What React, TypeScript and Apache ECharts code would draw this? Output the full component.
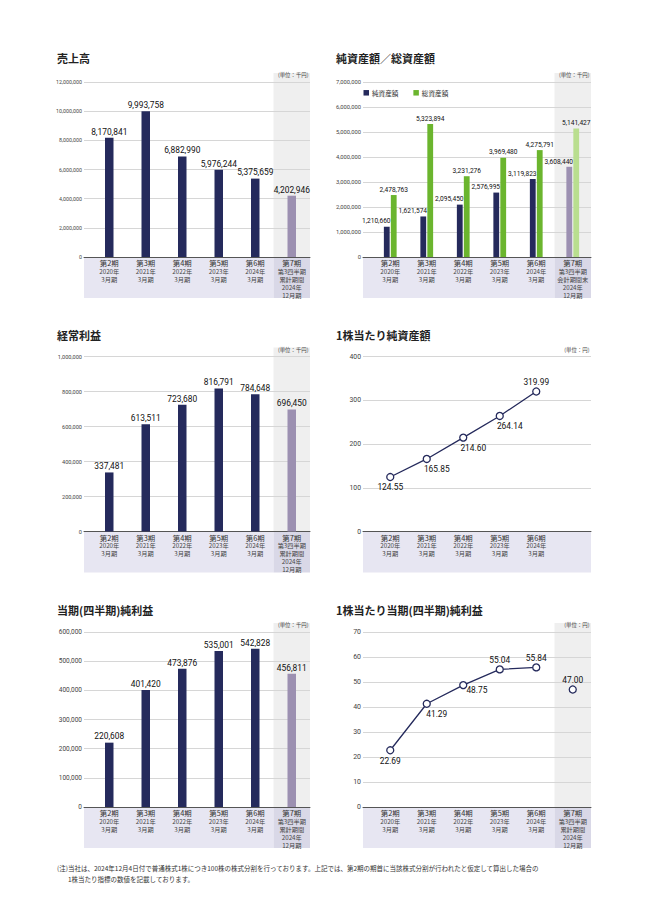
import React, { useEffect, useRef } from "react";
import * as echarts from "echarts";

// ---------- data ----------
const CATS = [
  "第2期\n2020年\n3月期",
  "第3期\n2021年\n3月期",
  "第4期\n2022年\n3月期",
  "第5期\n2023年\n3月期",
  "第6期\n2024年\n3月期",
  "第7期\n第3四半期\n累計期間\n2024年\n12月期",
];
const CATS_BS = [
  "第2期\n2020年\n3月期",
  "第3期\n2021年\n3月期",
  "第4期\n2022年\n3月期",
  "第5期\n2023年\n3月期",
  "第6期\n2024年\n3月期",
  "第7期\n第3四半期\n会計期間末\n2024年\n12月期",
];
const CATS_BPS = [
  "第2期\n2020年\n3月期",
  "第3期\n2021年\n3月期",
  "第4期\n2022年\n3月期",
  "第5期\n2023年\n3月期",
  "第6期\n2024年\n3月期",
  "",
];

const SALES = [8170841, 9993758, 6882990, 5976244, 5375659, 4202946];
const NET_ASSETS = [1210660, 1621574, 2095450, 2576995, 3119823, 3608440];
const TOTAL_ASSETS = [2478763, 5323894, 3231276, 3969480, 4275791, 5141427];
const ORDINARY_PROFIT = [337481, 613511, 723680, 816791, 784648, 696450];
const BPS = [124.55, 165.85, 214.6, 264.14, 319.99];
const NET_INCOME = [220608, 401420, 473876, 535001, 542828, 456811];
const EPS = [22.69, 41.29, 48.75, 55.04, 55.84];
const EPS_Q3 = [47.0];

const SALES_AXIS = { max: 12000000, interval: 2000000 };
const BS_AXIS = { max: 7000000, interval: 1000000 };
const ORD_AXIS = { max: 1000000, interval: 200000 };
const BPS_AXIS = { max: 400, interval: 100 };
const NI_AXIS = { max: 600000, interval: 100000 };
const EPS_AXIS = { max: 70, interval: 10 };

const NOTE_1 =
  "(注)当社は、2024年12月4日付で普通株式1株につき100株の株式分割を行っております。上記では、第2期の期首に当該株式分割が行われたと仮定して算出した場合の";
const NOTE_2 = "1株当たり指標の数値を記載しております。";

// ---------- style ----------
const NAVY = "#252a5c";
const PURPLE = "#9c90b1";
const GREEN = "#6bb52e";
const LGREEN = "#b9de8f";
const LAV = "#e7e6f2";
const LAV2 = "#d9d8e7";
const GRAY = "#efefef";
const JPF = "'Noto Sans CJK JP', sans-serif";
const NUMF = "Roboto, 'Noto Sans CJK JP', sans-serif";

const COLS = [
  { bgLeft: 84, catLeft: 91, right: 310 },
  { bgLeft: 363, catLeft: 372, right: 591 },
];
const ROWS = [
  { top: 82, titleY: 58 },
  { top: 356.5, titleY: 335 },
  { top: 632, titleY: 610 },
];
const PH = 175;

const fmt = (v: number) => v.toLocaleString("en-US");

function xLabelFormatter(v: string) {
  if (!v) return "";
  const [a, ...rest] = v.split("\n");
  return [`{a|${a}}`, ...rest.map((r) => `{b|${r}}`)].join("\n");
}

function buildOption() {
  const grid: any[] = [];
  const xAxis: any[] = [];
  const yAxis: any[] = [];
  const series: any[] = [];
  const graphic: any[] = [];

  const panels: any[] = [
    { title: "売上高", unit: "(単位：千円)", col: 0, row: 0, cats: CATS, ax: SALES_AXIS, yFont: 5.3, q3: true, kind: "sales" },
    { title: "純資産額／総資産額", unit: "(単位：千円)", col: 1, row: 0, cats: CATS_BS, ax: BS_AXIS, yFont: 5.8, q3: true, kind: "bs" },
    { title: "経常利益", unit: "(単位：千円)", col: 0, row: 1, cats: CATS, ax: ORD_AXIS, yFont: 5.6, q3: true, kind: "ord" },
    { title: "1株当たり純資産額", unit: "(単位：円)", col: 1, row: 1, cats: CATS_BPS, ax: BPS_AXIS, yFont: 6.8, q3: false, kind: "bps" },
    { title: "当期(四半期)純利益", unit: "(単位：千円)", col: 0, row: 2, cats: CATS, ax: NI_AXIS, yFont: 6.5, q3: true, kind: "ni" },
    { title: "1株当たり当期(四半期)純利益", unit: "(単位：円)", col: 1, row: 2, cats: CATS, ax: EPS_AXIS, yFont: 7, q3: true, kind: "eps" },
  ];

  panels.forEach((p, i) => {
    const c = COLS[p.col];
    const r = ROWS[p.row];
    const bi = 2 * i;
    const fi = 2 * i + 1;
    const zero = r.top + PH;
    const catW = (c.right - c.catLeft) / 6;
    const q3Left = c.catLeft + 5 * catW;

    grid.push({ left: c.bgLeft, top: r.top, width: c.right - c.bgLeft, height: PH });
    grid.push({ left: c.catLeft, top: r.top, width: c.right - c.catLeft, height: PH });

    xAxis.push({
      type: "value", gridIndex: bi, min: 0, max: 1,
      axisLine: { show: true, lineStyle: { color: "#555", width: 1 } },
      axisTick: { show: false }, axisLabel: { show: false }, splitLine: { show: false },
    });
    yAxis.push({
      type: "value", gridIndex: bi, min: 0, max: p.ax.max, interval: p.ax.interval,
      axisLine: { show: false }, axisTick: { show: false },
      axisLabel: { fontSize: p.yFont, color: "#444", margin: 2, fontFamily: NUMF, formatter: (v: number) => fmt(v) },
      splitLine: { lineStyle: { color: "#d6d6d6", width: 1 } },
    });
    xAxis.push({
      type: "category", gridIndex: fi, data: p.cats,
      axisLine: { show: false }, axisTick: { show: false }, splitLine: { show: false },
      axisLabel: {
        interval: 0, margin: 1, formatter: xLabelFormatter,
        rich: {
          a: { fontSize: 7.4, lineHeight: 9, color: "#333", fontFamily: JPF },
          b: { fontSize: 6.2, lineHeight: 8, color: "#444", fontFamily: JPF },
        },
      },
    });
    yAxis.push({ type: "value", gridIndex: fi, min: 0, max: p.ax.max, interval: p.ax.interval, show: false });

    // backgrounds
    if (p.q3) {
      graphic.push({ type: "rect", z: -10, shape: { x: c.bgLeft, y: zero, width: q3Left - c.bgLeft, height: 41 }, style: { fill: LAV } });
      graphic.push({ type: "rect", z: -10, shape: { x: q3Left, y: zero, width: c.right - q3Left, height: 41 }, style: { fill: LAV2 } });
      graphic.push({ type: "rect", z: -10, shape: { x: q3Left, y: r.top - 9, width: c.right - q3Left, height: PH + 9 }, style: { fill: GRAY } });
    } else {
      graphic.push({ type: "rect", z: -10, shape: { x: c.bgLeft, y: zero, width: c.right - c.bgLeft, height: 41 }, style: { fill: LAV } });
    }
    // title
    graphic.push({
      type: "text", x: c.bgLeft - 27, y: r.titleY,
      style: { text: p.title, fontSize: 11, fontWeight: "bold", fill: "#222", fontFamily: JPF, verticalAlign: "middle", align: "left" },
    });
    // unit
    graphic.push({
      type: "text", x: c.right - 1.5, y: r.top - 7,
      style: { text: p.unit, fontSize: 5.4, fill: "#444", fontFamily: JPF, verticalAlign: "middle", align: "right" },
    });

    const barLabel = { show: true, position: "top", distance: 2, fontSize: 8.4, color: "#111", fontFamily: NUMF, formatter: (q: any) => fmt(q.value) };
    const single = (name: string, vals: number[]) => ({
      type: "bar", name, xAxisIndex: fi, yAxisIndex: fi, barWidth: 8.5,
      itemStyle: { color: NAVY },
      data: vals.map((v, k) => (k === 5 ? { value: v, itemStyle: { color: PURPLE } } : v)),
      label: barLabel,
    });

    if (p.kind === "sales") series.push(single("売上高", SALES));
    if (p.kind === "ord") series.push(single("経常利益", ORDINARY_PROFIT));
    if (p.kind === "ni") series.push(single("当期(四半期)純利益", NET_INCOME));
    if (p.kind === "bs") {
      const small = { ...barLabel, fontSize: 6.6, distance: 2 };
      series.push({
        type: "bar", name: "純資産額", xAxisIndex: fi, yAxisIndex: fi, barWidth: 5.8, barGap: "20%",
        itemStyle: { color: NAVY },
        data: NET_ASSETS.map((v, k) => (k === 5 ? { value: v, itemStyle: { color: PURPLE } } : v)),
        label: { ...small, offset: [-10.5, 0] },
      });
      series.push({
        type: "bar", name: "総資産額", xAxisIndex: fi, yAxisIndex: fi, barWidth: 5.8, barGap: "20%",
        itemStyle: { color: GREEN },
        data: TOTAL_ASSETS.map((v, k) => (k === 5 ? { value: v, itemStyle: { color: LGREEN } } : v)),
        label: small,
      });
    }
    const lineBase = {
      type: "line", xAxisIndex: fi, yAxisIndex: fi, symbol: "circle", symbolSize: 7,
      itemStyle: { color: "#fff", borderColor: NAVY, borderWidth: 1.3 },
      lineStyle: { color: NAVY, width: 1.3 },
      label: { show: true, fontSize: 8.4, color: "#111", fontFamily: NUMF, formatter: (q: any) => Number(q.value).toFixed(2) },
    };
    if (p.kind === "bps") {
      const pos = [
        { position: "bottom", distance: 2 },
        { position: "bottom", distance: 2, offset: [10, 0] },
        { position: "bottom", distance: 2, offset: [10, 0] },
        { position: "bottom", distance: 2, offset: [10, 0] },
        { position: "top", distance: 1 },
      ];
      series.push({ ...lineBase, name: "1株当たり純資産額", data: BPS.map((v, k) => ({ value: v, label: pos[k] })) });
    }
    if (p.kind === "eps") {
      const pos = [
        { position: "bottom", distance: 2 },
        { position: "bottom", distance: 2, offset: [10, 0] },
        { position: "right", distance: 2, offset: [-3, 5] },
        { position: "top", distance: 1 },
        { position: "top", distance: 1 },
      ];
      series.push({ ...lineBase, name: "1株当たり当期純利益", data: EPS.map((v, k) => ({ value: v, label: pos[k] })) });
      series.push({
        ...lineBase, name: "1株当たり四半期純利益",
        data: ["-", "-", "-", "-", "-", { value: EPS_Q3[0], label: { position: "top", distance: 1 } }],
      });
    }
  });

  graphic.push({
    type: "text", x: 57, y: 868,
    style: { text: NOTE_1, fontSize: 6.5, fill: "#333", fontFamily: JPF, verticalAlign: "middle", align: "left" },
  });
  graphic.push({
    type: "text", x: 68, y: 878.5,
    style: { text: NOTE_2, fontSize: 6.5, fill: "#333", fontFamily: JPF, verticalAlign: "middle", align: "left" },
  });

  return {
    animation: false,
    backgroundColor: "#ffffff",
    textStyle: { fontFamily: JPF },
    grid,
    xAxis,
    yAxis,
    series,
    graphic,
    legend: {
      data: ["純資産額", "総資産額"],
      left: 363.5, top: 89.5, icon: "rect", itemWidth: 5.5, itemHeight: 5.5, itemGap: 15, padding: 0,
      textStyle: { fontSize: 6.6, color: "#333", fontFamily: JPF, padding: [0, 0, 0, -2] },
      selectedMode: false,
    },
  };
}

export default function App() {
  const ref = useRef<HTMLDivElement>(null);
  useEffect(() => {
    if (!ref.current) return;
    const chart = echarts.init(ref.current, null, { renderer: "svg" });
    chart.setOption(buildOption() as any);
    return () => chart.dispose();
  }, []);
  return <div ref={ref} style={{ position: "absolute", left: 0, top: 0, width: 648, height: 915, background: "#fff" }} />;
}
